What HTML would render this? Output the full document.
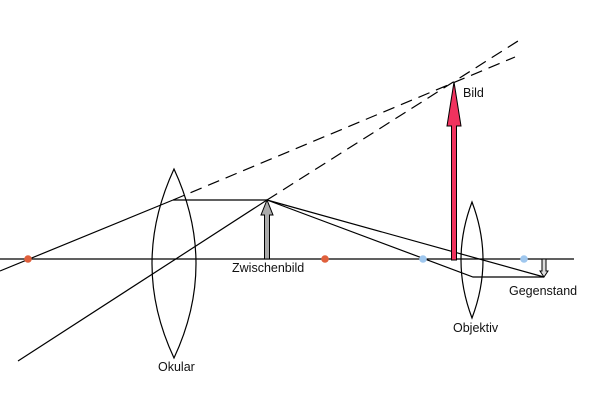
<!DOCTYPE html>
<html>
<head>
<meta charset="utf-8">
<style>
  html,body{margin:0;padding:0;background:#fff;}
  svg{display:block;}
  text{font-family:"Liberation Sans",Arial,sans-serif;font-size:12.5px;fill:#111;}
</style>
</head>
<body>
<svg width="600" height="404" viewBox="0 0 600 404" xmlns="http://www.w3.org/2000/svg">
  <rect width="600" height="404" fill="#fff"/>
  <g stroke="#000" stroke-width="1.2" fill="none">
    <!-- optical axis -->
    <line x1="0" y1="259" x2="574" y2="259"/>
    <!-- Okular lens -->
    <path d="M174,169 Q130,264 174,358 Q218,264 174,169 Z"/>
    <!-- Objektiv lens -->
    <path d="M472,202 Q450,260 472,318 Q494,260 472,202 Z"/>
    <!-- rays eyepiece side -->
    <line x1="0" y1="271" x2="173" y2="200"/>
    <line x1="173" y1="200" x2="267" y2="200"/>
    <line x1="18" y1="361" x2="267" y2="200"/>
    <!-- dashed extensions -->
    <line x1="173" y1="200" x2="515" y2="57" stroke-dasharray="12,7"/>
    <line x1="267" y1="200" x2="518" y2="41" stroke-dasharray="12,7"/>
    <!-- rays objective side -->
    <line x1="267" y1="200" x2="544" y2="277"/>
    <polyline points="267,200 473,277 544,277"/>
  </g>
  <!-- Zwischenbild arrow (gray) -->
  <polygon points="264.5,259 264.5,215 261,215 267,200 273,215 269.5,215 269.5,259" fill="#aaaaaa" stroke="#000" stroke-width="1"/>
  <!-- Bild arrow (pink/red) -->
  <polygon points="451.5,260 451.5,126 447,126 454,82 461,126 456.5,126 456.5,260" fill="#f0325e" stroke="#000" stroke-width="1"/>
  <!-- Gegenstand arrow -->
  <polygon points="542,259 542,271 540,271 544,277 548,271 546,271 546,259" fill="#dddddd" stroke="#000" stroke-width="1"/>
  <!-- focal points -->
  <circle cx="28" cy="259" r="3.8" fill="#e0603c"/>
  <circle cx="325" cy="259" r="3.8" fill="#e0603c"/>
  <circle cx="423" cy="259" r="3.8" fill="#9fc7ee"/>
  <circle cx="524" cy="259" r="3.8" fill="#9fc7ee"/>
  <!-- labels -->
  <text x="463" y="97">Bild</text>
  <text x="232" y="272">Zwischenbild</text>
  <text x="509" y="295">Gegenstand</text>
  <text x="453" y="332">Objektiv</text>
  <text x="158" y="371">Okular</text>
</svg>
</body>
</html>
